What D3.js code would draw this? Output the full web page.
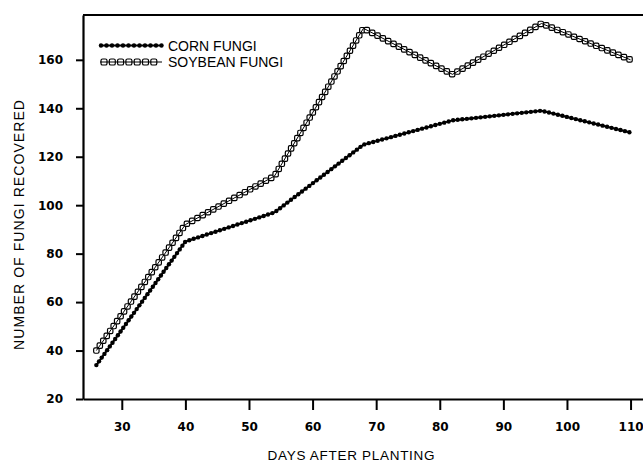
<!DOCTYPE html>
<html>
<head>
<meta charset="utf-8">
<script src="https://cdn.jsdelivr.net/npm/d3@7"></script>
<style>
  body { margin: 0; background: #fff; }
  svg { display: block; }
</style>
</head>
<body>
<svg></svg>
<script>
// days after planting
const days = [26, 40, 54, 68, 82, 96, 110]
const cornFungi = [34, 85, 97, 125, 135, 139, 130]
const soybeanFungi = [40, 92, 112, 173, 154, 175, 160]
const xTicks = [30, 40, 50, 60, 70, 80, 90, 100, 110]
const yTicks = [20, 40, 60, 80, 100, 120, 140, 160]
const seriesNames = ['CORN FUNGI', 'SOYBEAN FUNGI']

const width = 643
const height = 464
const margin = { top: 15, right: -6, bottom: 65, left: 83 }

const tickFont = '"DejaVu Sans", sans-serif'
const textFont = '"Liberation Sans", Arial, sans-serif'

const x = d3.scaleLinear()
  .domain([23.9, 112.9])
  .range([margin.left, width - margin.right])

const y = d3.scaleLinear()
  .domain([20, 178.5])
  .range([height - margin.bottom, margin.top])

const svg = d3.select('svg')
  .attr('width', width)
  .attr('height', height)

// frame: top spine
svg.append('line')
  .attr('x1', margin.left).attr('x2', width)
  .attr('y1', y(178.5)).attr('y2', y(178.5))
  .attr('stroke', '#000').attr('stroke-width', 2)

function xAxis (g) {
  g.attr('transform', `translate(0,${y(20)})`)
    .call(d3.axisBottom(x).tickValues(xTicks).tickSize(11).tickPadding(12).tickSizeOuter(0))
    .call(g => g.select('.domain').attr('stroke-width', 2.2))
    .call(g => g.selectAll('.tick line').attr('stroke-width', 2))
    .call(g => g.selectAll('.tick text')
      .attr('font-family', tickFont)
      .attr('font-weight', 'bold')
      .attr('font-size', 12))
}

function yAxis (g) {
  g.attr('transform', `translate(${margin.left},0)`)
    .call(d3.axisLeft(y).tickValues(yTicks).tickSize(7).tickPadding(13).tickSizeOuter(0))
    .call(g => g.select('.domain').attr('stroke-width', 2.2))
    .call(g => g.selectAll('.tick line').attr('stroke-width', 2))
    .call(g => g.selectAll('.tick text')
      .attr('font-family', tickFont)
      .attr('font-weight', 'bold')
      .attr('font-size', 12))
}

svg.append('g').call(xAxis)
svg.append('g').call(yAxis)

// axis titles
svg.append('text')
  .attr('x', 351)
  .attr('y', 460)
  .attr('text-anchor', 'middle')
  .attr('font-family', textFont)
  .attr('font-size', 13.5)
  .attr('textLength', 167)
  .text('DAYS AFTER PLANTING')

svg.append('text')
  .attr('transform', 'translate(24,225) rotate(-90)')
  .attr('text-anchor', 'middle')
  .attr('font-family', textFont)
  .attr('font-size', 14)
  .attr('textLength', 250)
  .text('NUMBER OF FUNGI RECOVERED')

const line = d3.line()
  .x(d => x(d[0]))
  .y(d => y(d[1]))

// place markers along a path at even spacing
function markersAlong (pathNode, step) {
  const len = pathNode.getTotalLength()
  const pts = []
  for (let l = 0; l <= len + 0.01; l += step) {
    const p = pathNode.getPointAtLength(Math.min(l, len))
    pts.push([p.x, p.y])
  }
  return pts
}

function drawCorn (g, data, step) {
  const path = g.append('path')
    .datum(data)
    .attr('d', line)
    .attr('fill', 'none')
    .attr('stroke', '#000')
    .attr('stroke-width', 2)
  g.selectAll('circle')
    .data(markersAlong(path.node(), step))
    .enter().append('circle')
    .attr('cx', d => d[0])
    .attr('cy', d => d[1])
    .attr('r', 2.2)
    .attr('fill', '#000')
}

function drawSoy (g, data, step) {
  const path = g.append('path')
    .datum(data)
    .attr('d', line)
    .attr('fill', 'none')
  g.selectAll('rect')
    .data(markersAlong(path.node(), step))
    .enter().append('rect')
    .attr('x', d => d[0] - 2.7)
    .attr('y', d => d[1] - 2.7)
    .attr('width', 5.4)
    .attr('height', 5.4)
    .attr('rx', 1.4)
    .attr('fill', '#fff')
    .attr('stroke', '#000')
    .attr('stroke-width', 1.2)
  path.raise()
    .attr('stroke', '#000')
    .attr('stroke-width', 1)
}

const cornData = days.map((d, i) => [d, cornFungi[i]])
const soyData = days.map((d, i) => [d, soybeanFungi[i]])

drawSoy(svg.append('g'), soyData, 6)
drawCorn(svg.append('g'), cornData, 4.6)

// legend (drawn in pixel space, not data)
const legend = svg.append('g')
const legendLine = d3.line()
const lc = legend.append('g')
lc.append('path').attr('d', legendLine([[101, 45.5], [162, 45.5]]))
  .attr('stroke', '#000').attr('stroke-width', 2)
lc.selectAll('circle').data(d3.range(101, 163, 5.5)).enter().append('circle')
  .attr('cx', d => d).attr('cy', 45.5).attr('r', 2.2).attr('fill', '#000')
const ls = legend.append('g')
ls.selectAll('rect').data(d3.range(104, 162, 8.3)).enter().append('rect')
  .attr('x', d => d - 3).attr('y', 62 - 3).attr('width', 6).attr('height', 6).attr('rx', 1.6)
  .attr('fill', '#fff').attr('stroke', '#000').attr('stroke-width', 1.2)
ls.append('path').attr('d', legendLine([[100, 62], [162, 62]]))
  .attr('stroke', '#000').attr('stroke-width', 1)

legend.selectAll('text')
  .data(seriesNames)
  .enter().append('text')
  .attr('x', 168)
  .attr('y', (d, i) => 50.5 + i * 16.5)
  .attr('font-family', textFont)
  .attr('font-size', 14)
  .text(d => d)
</script>
</body>
</html>
